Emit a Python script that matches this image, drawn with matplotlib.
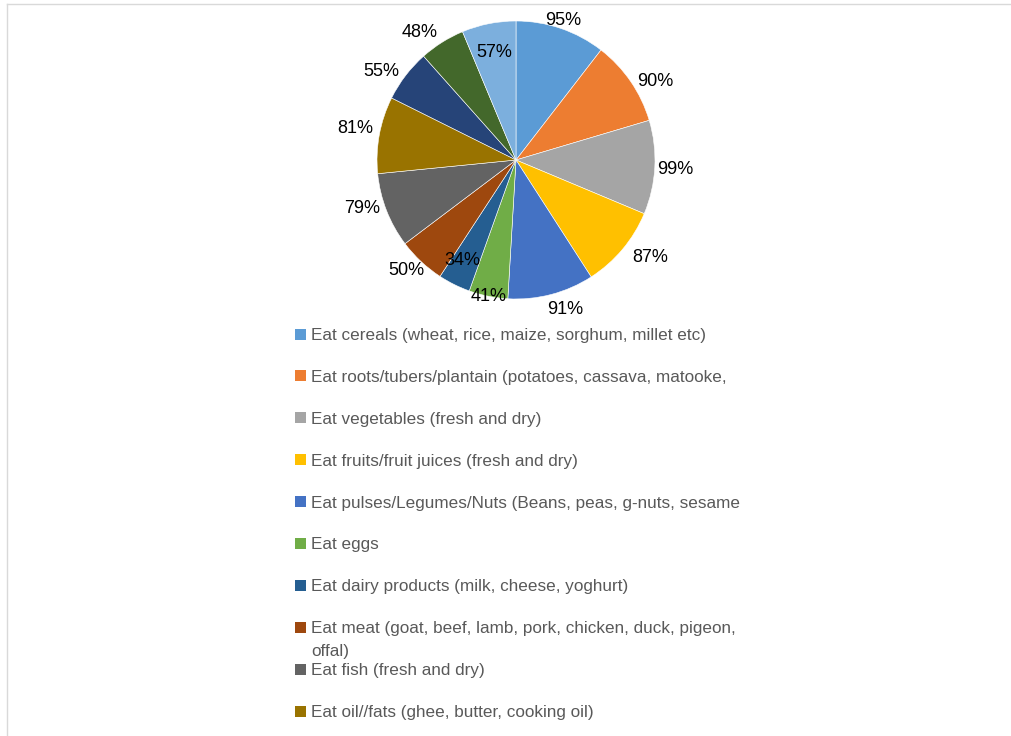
import matplotlib.pyplot as plt
from matplotlib.patches import Rectangle
from matplotlib.lines import Line2D
import numpy as np

plt.rcParams['font.family'] = ['Liberation Sans', 'DejaVu Sans']

categories = [
    "Eat cereals (wheat, rice, maize, sorghum, millet etc)",
    "Eat roots/tubers/plantain (potatoes, cassava, matooke,",
    "Eat vegetables (fresh and dry)",
    "Eat fruits/fruit juices (fresh and dry)",
    "Eat pulses/Legumes/Nuts (Beans, peas, g-nuts, sesame",
    "Eat eggs",
    "Eat dairy products (milk, cheese, yoghurt)",
    "Eat meat (goat, beef, lamb, pork, chicken, duck, pigeon,\noffal)",
    "Eat fish (fresh and dry)",
    "Eat oil//fats (ghee, butter, cooking oil)",
    "Eat sugar/honey",
    "Eat spices/condiments",
    "Eat other foods",
]
percent = [95, 90, 99, 87, 91, 41, 34, 50, 79, 81, 55, 48, 57]

colors = ['#5B9BD5', '#ED7D31', '#A5A5A5', '#FFC000', '#4472C4', '#70AD47',
          '#255E91', '#9E480E', '#636363', '#997300', '#264478', '#43682B',
          '#7CAFDD']
# label placement: radius (1 = pie edge) and clockwise nudge in degrees
label_r = [1.06, 1.15, 1.15, 1.19, 1.13, 1.0, 0.82, 1.12, 1.16, 1.18, 1.16, 1.15, 0.79]
label_nudge = [0, 5, 0.5, -4, -3.5, 0, 1.5, 1.7, 4, 0.5, -4, -5, 0]

W, H = 1012, 736
fig = plt.figure(figsize=(W / 100, H / 100), dpi=100)

# chart area border (only top and left edges fall inside the image)
fig.add_artist(Line2D([7 / W, 1.0], [1 - 4 / H, 1 - 4 / H], transform=fig.transFigure,
                      color='#D9D9D9', lw=1))
fig.add_artist(Line2D([7 / W, 7 / W], [0, 1 - 4 / H], transform=fig.transFigure,
                      color='#D9D9D9', lw=1))

cx, cy, r = 516, 160, 139
ax = fig.add_axes([(cx - r) / W, (H - cy - r) / H, 2 * r / W, 2 * r / H])
wedges, _ = ax.pie(percent, colors=colors, startangle=90, counterclock=False,
                   radius=1, wedgeprops=dict(edgecolor='white', linewidth=0.4))
ax.set_xlim(-1, 1)
ax.set_ylim(-1, 1)
ax.set_aspect('equal')
ax.axis('off')

for w, v, d, nd in zip(wedges, percent, label_r, label_nudge):
    ang = np.deg2rad((w.theta1 + w.theta2) / 2 - nd)
    ax.text(d * np.cos(ang), d * np.sin(ang), f"{v}%", ha='center', va='center',
            fontsize=13, color='black', clip_on=False)

# legend drawn as a column of swatches and labels; rows past the
# bottom of the chart area are not shown
x_sq, x_txt = 295, 311
y0, step, line_h = 334, 41.9, 23
for i, (name, c) in enumerate(zip(categories, colors)):
    y = y0 + i * step
    if y + 10 > H:
        break
    fig.add_artist(Rectangle((x_sq / W, 1 - (y + 5.5) / H), 11 / W, 11 / H,
                             transform=fig.transFigure, facecolor=c, edgecolor='none'))
    for k, line in enumerate(name.split('\n')):
        fig.text(x_txt / W, 1 - (y + 6 + k * line_h) / H, line, ha='left',
                 va='baseline', fontsize=12.3, color='#595959')

fig.savefig('out.png', dpi=100)
